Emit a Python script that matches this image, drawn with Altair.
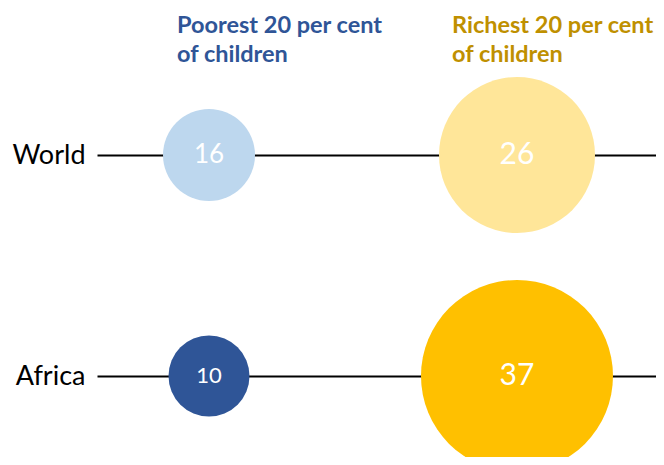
import altair as alt
import pandas as pd

# ---- data ----
regions = ["World", "Africa"]
groups = ["Poorest", "Richest"]
headers = ["Poorest 20 per cent\nof children", "Richest 20 per cent\nof children"]
header_colors = ["#2F5597", "#BF9000"]
poorest = [16, 10]
richest = [26, 37]
fill_keys = ["World|Poorest", "World|Richest", "Africa|Poorest", "Africa|Richest"]
fill_colors = ["#BDD7EE", "#FFE699", "#2F5597", "#FFC000"]

rows = []
for i, r in enumerate(regions):
    for g, vals in zip(groups, [poorest, richest]):
        rows.append({"region": r, "group": g, "value": vals[i], "key": f"{r}|{g}"})
df = pd.DataFrame(rows)

FONT = "Lato"

x_enc = alt.X("group:N",
              scale=alt.Scale(type="point", domain=groups, padding=0.4075, align=0.4462),
              axis=None)
y_enc = alt.Y("region:N",
              scale=alt.Scale(type="point", domain=regions, range=[147, 368], padding=0),
              axis=alt.Axis(title=None, orient="left", domain=False, ticks=False,
                            labelFont=FONT, labelFontSize=27, labelColor="#000000",
                            labelPadding=12, labelBaseline="middle",
                            grid=True, gridColor="#000000", gridWidth=2, gridOpacity=1))

circles = alt.Chart(df).mark_circle(opacity=1).encode(
    x=x_enc,
    y=y_enc,
    size=alt.Size("value:Q",
                  scale=alt.Scale(domain=[10, 16, 26, 37], range=[6561, 8464, 24336, 36864]),
                  legend=None),
    color=alt.Color("key:N", scale=alt.Scale(domain=fill_keys, range=fill_colors), legend=None),
)

numbers = alt.Chart(df).mark_text(color="#FFFFFF", font=FONT, align="center", baseline="middle").encode(
    x=x_enc,
    y=y_enc,
    text=alt.Text("value:Q"),
    size=alt.Size("value:Q",
                  scale=alt.Scale(domain=[10, 16, 26, 37], range=[22, 26, 30, 30]),
                  legend=None),
)

offsets = [-32, -65]
header_layers = []
for g, h, c, dx in zip(groups, headers, header_colors, offsets):
    hdf = pd.DataFrame({"group": [g], "header": [h]})
    header_layers.append(
        alt.Chart(hdf).mark_text(align="left", baseline="alphabetic", font=FONT, fontWeight="bold",
                                 fontSize=23.5, color=c, lineBreak="\n", lineHeight=29, dx=dx).encode(
            x=x_enc,
            y=alt.value(25),
            text="header:N",
        )
    )

chart = alt.layer(circles, numbers, *header_layers).resolve_scale(size="independent").properties(
    width=559,
    height=449,
    autosize=alt.AutoSizeParams(type="none"),
    padding={"left": 89, "top": 0, "right": 0, "bottom": 0},
    background="#FFFFFF",
).configure_view(stroke=None)

chart.save("out.html", embed_options={"renderer": "svg", "actions": False})
